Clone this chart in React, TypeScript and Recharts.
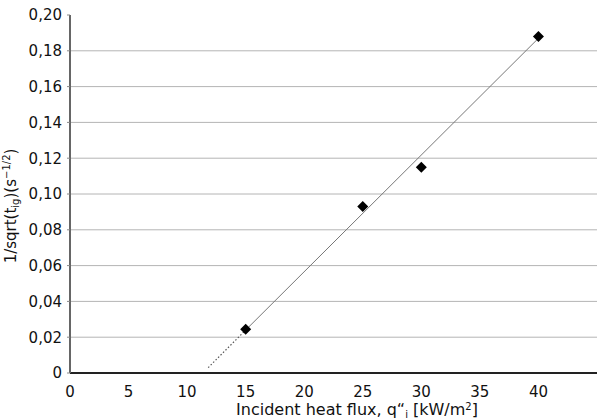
import { ComposedChart, Scatter, Line, XAxis, YAxis, ReferenceLine } from "recharts";

// measured points
const heatFlux = [15, 25, 30, 40];
const invSqrtTig = [0.0245, 0.093, 0.115, 0.188];

// trend line (solid part + dotted extension)
const trendX = [15, 40];
const trendY = [0.024, 0.187];
const extX = [11.8, 15];
const extY = [0.003, 0.024];

const xTicks = [0, 5, 10, 15, 20, 25, 30, 35, 40];
const yTicks = [0, 0.02, 0.04, 0.06, 0.08, 0.1, 0.12, 0.14, 0.16, 0.18, 0.2];
const gridLines = [0.02, 0.04, 0.06, 0.08, 0.1, 0.12, 0.14, 0.16, 0.18];

const points = heatFlux.map((x, i) => ({ x, y: invSqrtTig[i] }));
const trend = trendX.map((x, i) => ({ x, y: trendY[i] }));
const ext = extX.map((x, i) => ({ x, y: extY[i] }));

const font = "'DejaVu Sans', sans-serif";

const Diamond = (props: any) => {
    const { cx, cy } = props;
    const r = 5.5;
    return (
        <polygon
            points={`${cx},${cy - r} ${cx + r},${cy} ${cx},${cy + r} ${cx - r},${cy}`}
            fill="#000"
        />
    );
};

export default function App() {
    return (
        <div style={{ position: "absolute", left: 0, top: 0, background: "#fff", fontFamily: font }}>
            <ComposedChart
                width={598}
                height={420}
                margin={{ top: 15, right: 1, bottom: 17, left: 30 }}
            >
                {gridLines.map((g) => (
                    <ReferenceLine key={g} y={g} stroke="#b4b4b4" strokeWidth={1} />
                ))}
                <XAxis
                    type="number"
                    dataKey="x"
                    domain={[0, 45]}
                    ticks={xTicks}
                    allowDataOverflow
                    height={30}
                    tickSize={0}
                    tickMargin={13}
                    axisLine={{ stroke: "#222", strokeWidth: 2 }}
                    tick={{ fontSize: 15, fill: "#111", fontFamily: font }}
                    label={{
                        content: () => (
                            <text x={357} y={415} textAnchor="middle" fontSize={16} fill="#111" fontFamily={font}>
                                Incident heat flux, q“
                                <tspan fontSize={10} dy={3}>i</tspan>
                                <tspan dy={-3}> [kW/m</tspan>
                                <tspan fontSize={10} dy={-5}>2</tspan>
                                <tspan dy={5}>]</tspan>
                            </text>
                        ),
                    }}
                />
                <YAxis
                    type="number"
                    dataKey="y"
                    domain={[0, 0.2]}
                    ticks={yTicks}
                    width={40}
                    tickSize={3}
                    tickMargin={5}
                    tickLine={{ stroke: "#888" }}
                    axisLine={{ stroke: "#666", strokeWidth: 2 }}
                    tick={{ fontSize: 15, fill: "#111", fontFamily: font }}
                    tickFormatter={(v: number) => (v === 0 ? "0" : v.toFixed(2).replace(".", ","))}
                    label={{
                        content: () => (
                            <text
                                x={16}
                                y={206}
                                transform="rotate(-90 16 206)"
                                textAnchor="middle"
                                fontSize={15}
                                fill="#111"
                                fontFamily={font}
                            >
                                1/sqrt(t
                                <tspan fontSize={10} dy={3}>ig</tspan>
                                <tspan dy={-3}>)(s</tspan>
                                <tspan fontSize={10} dy={-6}>−1/2</tspan>
                                <tspan dy={6}>)</tspan>
                            </text>
                        ),
                    }}
                />
                <Line
                    data={ext}
                    dataKey="y"
                    stroke="#555"
                    strokeWidth={1.2}
                    strokeDasharray="1.5 2"
                    dot={false}
                    activeDot={false}
                    isAnimationActive={false}
                />
                <Line
                    data={trend}
                    dataKey="y"
                    stroke="#777"
                    strokeWidth={1}
                    dot={false}
                    activeDot={false}
                    isAnimationActive={false}
                />
                <Scatter data={points} dataKey="y" shape={<Diamond />} isAnimationActive={false} />
            </ComposedChart>
        </div>
    );
}
